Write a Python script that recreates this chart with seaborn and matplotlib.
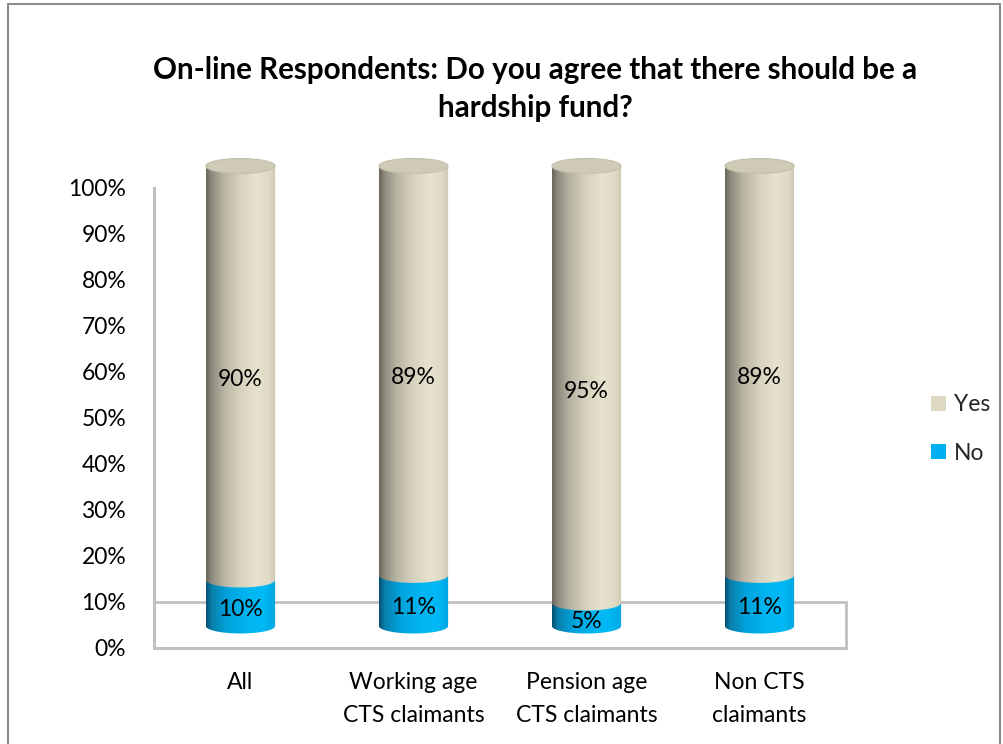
import numpy as np
import pandas as pd
import matplotlib
matplotlib.use("Agg")
import matplotlib.pyplot as plt
import matplotlib.transforms as mtransforms
from matplotlib.patches import Ellipse, Rectangle, Patch, PathPatch
from matplotlib.path import Path
from matplotlib.colors import LinearSegmentedColormap
import seaborn as sns

# ---- data -------------------------------------------------------------
categories = ["All", "Working age\nCTS claimants", "Pension age\nCTS claimants", "Non CTS\nclaimants"]
yes_pct = [90, 89, 95, 89]
no_pct = [10, 11, 5, 11]
series_names = ["Yes", "No"]
y_ticks = [0, 10, 20, 30, 40, 50, 60, 70, 80, 90, 100]
title = "On-line Respondents: Do you agree that there should be a\nhardship fund?"

# ---- style ------------------------------------------------------------
YES_FLAT = "#ddd9c3"
NO_FLAT = "#00b0f0"
YES_TOP = "#cecab6"
yes_cmap = LinearSegmentedColormap.from_list(
    "yes_shade",
    [(0.0, "#6a665b"), (0.08, "#8e8a7d"), (0.25, "#b8b4a2"), (0.5, "#d8d3bf"),
     (0.72, "#e7e2ce"), (0.9, "#dfdac6"), (1.0, "#cdc8b4")])
no_cmap = LinearSegmentedColormap.from_list(
    "no_shade",
    [(0.0, "#04506f"), (0.08, "#0a7fab"), (0.3, "#00a3dc"), (0.6, "#00b5f2"),
     (0.82, "#00b9f6"), (1.0, "#00a6e2")])

sns.set_theme(style="white")
plt.rcParams["font.family"] = ["Lato", "DejaVu Sans"]

W, H = 1004, 744
fig = plt.figure(figsize=(W / 100, H / 100), dpi=100)
ax = fig.add_axes([154 / W, 96 / H, 692 / W, 460 / H])

df = pd.DataFrame({"category": categories, "yes": yes_pct, "no": no_pct})
df["total"] = df["yes"] + df["no"]

# stacked bars: total (Yes on top) then No at the base
sns.barplot(data=df, x="category", y="total", color=YES_FLAT, width=0.4,
            saturation=1, edgecolor="none", ax=ax)
sns.barplot(data=df, x="category", y="no", color=NO_FLAT, width=0.4,
            saturation=1, edgecolor="none", ax=ax)

ax.set_xlim(-0.5, len(categories) - 0.5)
ax.set_ylim(0, 100)

# 3-D look: cylinders sit back on the floor, lifted by the floor depth
depth = mtransforms.ScaledTranslation(0, 22 / 100, fig.dpi_scale_trans)
lift = ax.transData + depth
label_lift = ax.transData + mtransforms.ScaledTranslation(0, 15 / 100, fig.dpi_scale_trans)
ell_h = 15 * 100 / 460  # ellipse height in data units

patches = list(ax.patches)
n = len(categories)
tot_patches = patches[:n]
no_patches = patches[n:2 * n]

for p in patches:
    p.set_transform(lift)
    p.set_clip_on(False)
    p.set_zorder(1.5)

grad = np.linspace(0, 1, 256).reshape(1, -1)


def cylinder_segment(x0, w, b, t, cmap, z):
    xc = x0 + w / 2
    th = np.linspace(np.pi, 2 * np.pi, 80)
    verts = [(x0, t), (x0, b)]
    verts += list(zip(xc + w / 2 * np.cos(th), b + ell_h / 2 * np.sin(th)))
    verts += [(x0 + w, b), (x0 + w, t), (x0, t)]
    codes = [Path.MOVETO] + [Path.LINETO] * (len(verts) - 2) + [Path.CLOSEPOLY]
    clip = PathPatch(Path(verts, codes), transform=lift)
    im = ax.imshow(grad, cmap=cmap, aspect="auto", interpolation="bilinear",
                   extent=(x0, x0 + w, b - ell_h / 2 - 0.5, t + 0.5),
                   transform=lift, zorder=z)
    im.set_clip_path(clip)
    im.set_clip_box(fig.bbox)


for i, (pt, pn) in enumerate(zip(tot_patches, no_patches)):
    x0, w = pn.get_x(), pn.get_width()
    xc = x0 + w / 2
    h_no = pn.get_height()
    h_tot = pt.get_height()
    cylinder_segment(x0, w, 0, h_no, no_cmap, 3)
    cylinder_segment(x0, w, h_no, h_tot, yes_cmap, 4)
    top = Ellipse((xc, h_tot), w, ell_h, transform=lift, facecolor=YES_TOP,
                  edgecolor="#c4c0ac", lw=0.8, zorder=5, clip_on=False)
    ax.add_patch(top)
    ax.text(xc, h_no / 2, f"{no_pct[i]}%", transform=label_lift,
            ha="center", va="center", fontsize=16.5, color="black", zorder=6)
    ax.text(xc, h_no + (h_tot - h_no) / 2, f"{yes_pct[i]}%", transform=label_lift,
            ha="center", va="center", fontsize=16.5, color="black", zorder=6)

ax.set_xlim(-0.5, n - 0.5)
ax.set_ylim(0, 100)

# floor of the 3-D plot area
ax.add_patch(Rectangle((0, 0), 1, 46 / 460, transform=ax.transAxes, fill=False,
                       edgecolor="#c0c0c0", lw=2, zorder=1, clip_on=False))

# axes, ticks, labels
for s in ["top", "right"]:
    ax.spines[s].set_visible(False)
for s in ["left", "bottom"]:
    ax.spines[s].set_color("#c0c0c0")
    ax.spines[s].set_linewidth(2.2)
    ax.spines[s].set_zorder(0.5)

ax.set_yticks(y_ticks)
ax.set_yticklabels([f"{v}%" for v in y_ticks])
ax.set_xticks(np.arange(-0.5, n, 1.0))
ax.set_xticklabels([])
ax.set_xticks(np.arange(n), minor=True)
ax.set_xticklabels(categories, minor=True, linespacing=1.75)
ax.tick_params(axis="both", which="major", direction="out", length=8, width=1.2,
               color="#808080", labelsize=16.5, labelcolor="black")
ax.tick_params(axis="y", pad=12)
ax.tick_params(axis="x", which="minor", length=0, pad=17, labelsize=16.5,
               labelcolor="black")
ax.set_xlabel("")
ax.set_ylabel("")
ax.grid(False)

# legend
handles = [Patch(facecolor=YES_FLAT, edgecolor="none", label=series_names[0]),
           Patch(facecolor=NO_FLAT, edgecolor="none", label=series_names[1])]
ax.legend(handles=handles, loc="center left", bbox_to_anchor=(931 / W, 1 - 429 / H),
          bbox_transform=fig.transFigure, frameon=False, handlelength=0.65,
          handleheight=0.65, handletextpad=0.35, labelspacing=1.2, borderpad=0,
          borderaxespad=0, fontsize=16.5)

fig.text(535 / W, 1 - 89 / H, title, ha="center", va="center", fontsize=21.3,
         fontweight="bold", linespacing=1.45, color="black")

# chart frame
fig.add_artist(Rectangle((8 / W, -0.01), 992 / W, 1 - 4 / H + 0.01,
                         transform=fig.transFigure, fill=False,
                         edgecolor="#8c8c8c", lw=1.5))

fig.savefig("out.png", dpi=100)
